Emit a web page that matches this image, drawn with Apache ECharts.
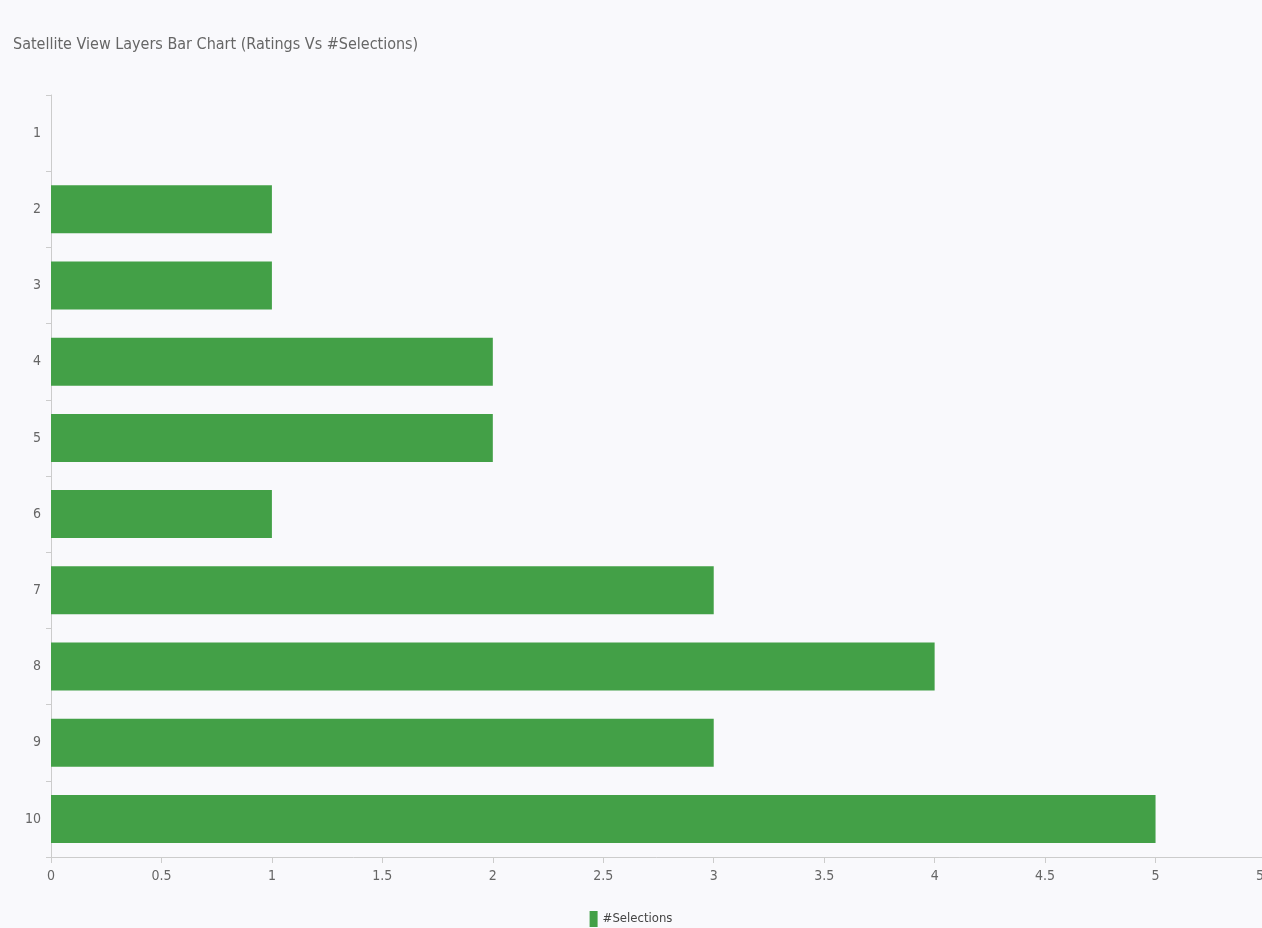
<!DOCTYPE html>
<html>
<head>
<meta charset="utf-8">
<script src="https://cdn.jsdelivr.net/npm/echarts@6/dist/echarts.min.js"></script>
<style>
html,body{margin:0;padding:0;background:#f9f9fc;}
#chart{width:1262px;height:928px;}
</style>
</head>
<body>
<div id="chart"></div>
<script>
const titleText = 'Satellite View Layers Bar Chart (Ratings Vs #Selections)';
const ratings = ['1','2','3','4','5','6','7','8','9','10'];
const selections = [0, 1, 1, 2, 2, 1, 3, 4, 3, 5];
const seriesName = '#Selections';

const FONT = "'Liberation Sans Narrow', 'DejaVu Sans Condensed', sans-serif";
const chart = echarts.init(document.getElementById('chart'));
chart.setOption({
  backgroundColor: '#f9f9fc',
  animation: false,
  title: {
    text: titleText,
    left: 8, top: 32,
    textStyle: {fontFamily: FONT, fontSize: 16, fontWeight: 'normal', color: '#666'}
  },
  legend: {
    data: [seriesName],
    top: 906, left: 'center',
    icon: 'rect', itemWidth: 8, itemHeight: 16, itemGap: 5,
    textStyle: {fontFamily: FONT, fontSize: 13, color: '#444'}
  },
  grid: {left: 51, right: -4, top: 95, bottom: 71, containLabel: false, outerBoundsMode: 'none'},
  xAxis: {
    type: 'value', min: 0, max: 5.5, interval: 0.5,
    axisLine: {show: true, lineStyle: {color: '#ccc'}},
    axisTick: {show: true, length: 6, lineStyle: {color: '#ccc'}},
    splitLine: {show: false},
    axisLabel: {fontFamily: FONT, fontSize: 14, color: '#666', margin: 12}
  },
  yAxis: {
    type: 'category', data: ratings, inverse: true,
    axisLine: {show: true, lineStyle: {color: '#ccc'}},
    axisTick: {show: true, length: 5, lineStyle: {color: '#ccc'}},
    axisLabel: {fontFamily: FONT, fontSize: 14, color: '#666', margin: 10}
  },
  series: [{
    name: seriesName,
    type: 'bar',
    data: selections,
    barCategoryGap: '37%',
    itemStyle: {color: '#43a047'}
  }]
});
</script>
</body>
</html>
